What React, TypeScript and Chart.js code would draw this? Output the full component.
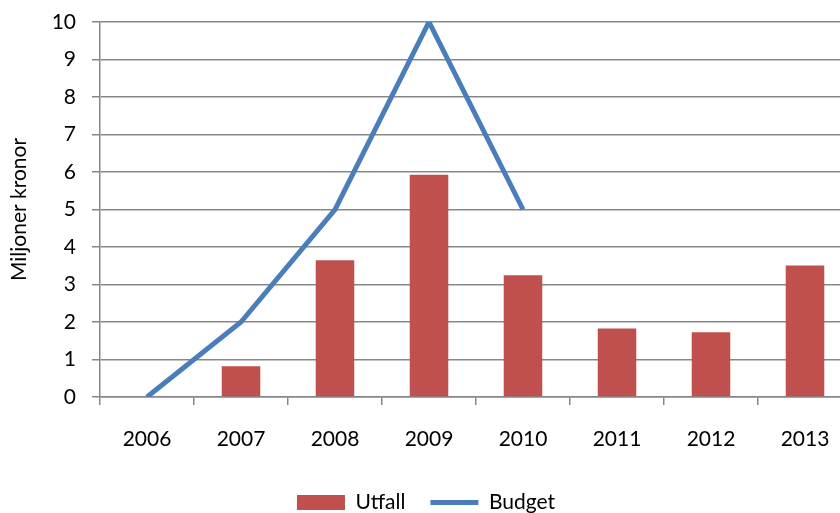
import React, { useEffect, useRef } from "react";
import { Chart, registerables } from "chart.js";

Chart.register(...registerables);

const categories = ["2006", "2007", "2008", "2009", "2010", "2011", "2012", "2013"];
const utfall: (number | null)[] = [null, 0.82, 3.65, 5.93, 3.25, 1.83, 1.73, 3.51];
const budget: (number | null)[] = [0, 2, 5, 10, 5, null, null, null];
const yMin = 0;
const yMax = 10;
const yStep = 1;
const yTitle = "Miljoner kronor";
const seriesNames = ["Utfall", "Budget"];

const FONT = "Lato";
const GRID = "#878787";

export default function App() {
  const ref = useRef<HTMLCanvasElement | null>(null);

  useEffect(() => {
    if (!ref.current) return;
    const chart = new Chart(ref.current, {
      type: "bar",
      data: {
        labels: categories,
        datasets: [
          {
            type: "bar",
            label: seriesNames[0],
            data: utfall,
            backgroundColor: "#C0504D",
            borderWidth: 0,
            categoryPercentage: 1,
            barPercentage: 0.41,
            pointStyle: "rect",
          } as any,
          {
            type: "line",
            label: seriesNames[1],
            data: budget,
            borderColor: "#4A7EBB",
            backgroundColor: "#4A7EBB",
            borderWidth: 5,
            pointRadius: 0,
            pointStyle: "line",
            tension: 0,
            spanGaps: false,
          } as any,
        ],
      },
      options: {
        animation: false,
        responsive: true,
        maintainAspectRatio: false,
        layout: { padding: { top: 22, right: 8, left: 0, bottom: 0 } },
        plugins: {
          tooltip: { enabled: false },
          legend: {
            position: "bottom",
            labels: {
              usePointStyle: true,
              pointStyleWidth: 48,
              boxHeight: 15,
              padding: 25,
              color: "#000",
              font: { family: FONT, size: 21 },
            },
          },
        },
        scales: {
          x: {
            offset: true,
            grid: {
              offset: true,
              drawOnChartArea: false,
              drawTicks: true,
              tickLength: 8,
              color: GRID,
              lineWidth: 1.5,
            },
            border: { display: true, color: GRID, width: 1.5 },
            ticks: {
              color: "#000",
              padding: 22,
              font: { family: FONT, size: 21 },
              maxRotation: 0,
            },
            afterFit: (s: any) => {
              s.height = 70;
            },
          },
          y: {
            min: yMin,
            max: yMax,
            ticks: {
              stepSize: yStep,
              color: "#000",
              padding: 16,
              font: { family: FONT, size: 21, lineHeight: 0.6 },
            },
            grid: {
              color: GRID,
              lineWidth: 1.5,
              drawTicks: true,
              tickLength: 8,
            },
            border: { display: true, color: GRID, width: 1.5 },
            title: {
              display: true,
              text: yTitle,
              color: "#000",
              font: { family: FONT, size: 21 },
              padding: { top: 7, bottom: 0 },
            },
            afterFit: (s: any) => {
              s.width = 100;
              s.paddingTop = 0;
              s.paddingBottom = 0;
            },
          },
        },
      },
    });
    return () => chart.destroy();
  }, []);

  return (
    <div style={{ position: "fixed", left: 0, top: 0, width: 860, height: 523, background: "#fff" }}>
      <canvas ref={ref} />
    </div>
  );
}
